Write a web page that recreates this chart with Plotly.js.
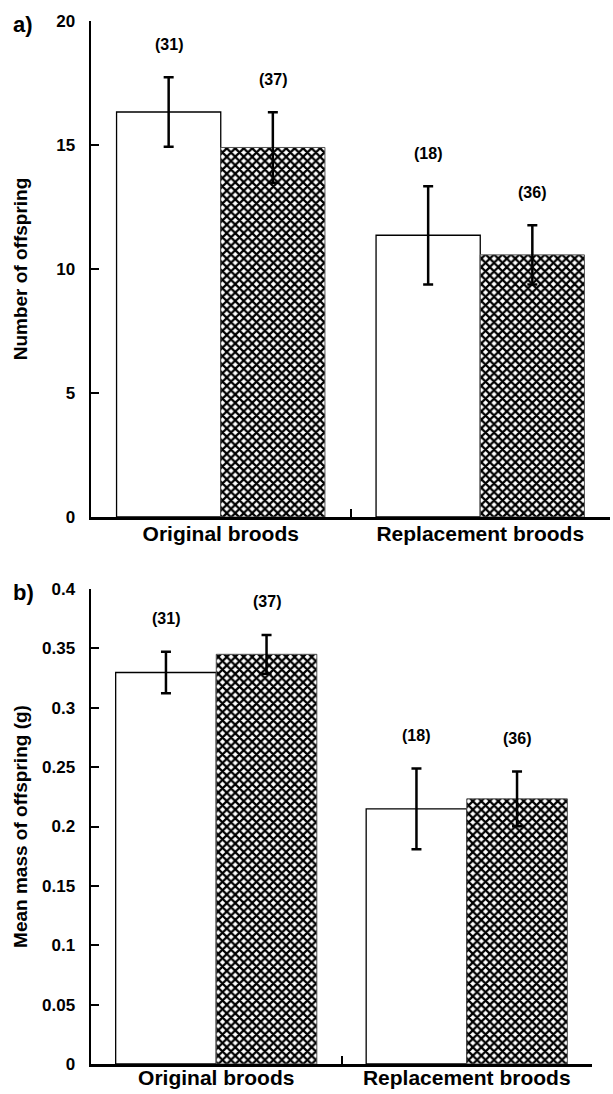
<!DOCTYPE html>
<html>
<head>
<meta charset="utf-8">
<script src="https://cdn.plot.ly/plotly-3.0.1.min.js"></script>
<style>html,body{margin:0;padding:0;background:#fff;}#chart{width:613px;height:1094px;}</style>
</head>
<body>
<div id="chart"></div>
<script>
// ---- data ----
const categories = ['Original broods', 'Replacement broods'];

// panel a) Number of offspring
const numberWhite = [16.33, 11.36];
const numberWhiteErr = [1.40, 1.98];
const numberChecked = [14.90, 10.57];
const numberCheckedErr = [1.42, 1.19];

// panel b) Mean mass of offspring (g)
const massWhite = [0.3297, 0.2149];
const massWhiteErr = [0.0175, 0.034];
const massChecked = [0.345, 0.2233];
const massCheckedErr = [0.0163, 0.023];

// sample sizes
const nWhite = ['(31)', '(18)'];
const nChecked = ['(37)', '(36)'];

// tick labels
const ticksA = [0, 5, 10, 15, 20];
const tickTextA = ['0', '5', '10', '15', '20'];
const ticksB = [0, 0.05, 0.1, 0.15, 0.2, 0.25, 0.3, 0.35, 0.4];
const tickTextB = ['0', '0.05', '0.1', '0.15', '0.2', '0.25', '0.3', '0.35', '0.4'];

// ---- style ----
const FONT = 'Liberation Sans, Arial, sans-serif';
const BARGAP = 0.197;
const whiteMarker = {color: 'white', line: {color: 'black', width: 1.3}};
const checkMarker = {
  color: 'white',
  pattern: {shape: 'x', fgcolor: 'black', bgcolor: 'white', size: 6, solidity: 0.6},
  line: {color: '#555', width: 1}
};
const errStyle = (arr) => ({type: 'data', array: arr, visible: true, color: 'black', thickness: 2.5, width: 5});

function barTrace(y, err, marker, xa, ya, name) {
  return {type: 'bar', x: categories, y: y, error_y: errStyle(err), marker: marker,
          xaxis: xa, yaxis: ya, name: name, showlegend: false, hoverinfo: 'skip'};
}

const data = [
  barTrace(numberWhite, numberWhiteErr, whiteMarker, 'x', 'y', 'white'),
  barTrace(numberChecked, numberCheckedErr, checkMarker, 'x', 'y', 'checked'),
  barTrace(massWhite, massWhiteErr, whiteMarker, 'x2', 'y2', 'white'),
  barTrace(massChecked, massCheckedErr, checkMarker, 'x2', 'y2', 'checked')
];

const W = 613, H = 1094;
const xAxisBase = {
  type: 'category', range: [-0.5, 1.5], showline: true, linecolor: 'black', linewidth: 2.5,
  ticks: 'inside', tickson: 'boundaries', ticklen: 8, tickwidth: 2, tickcolor: 'black',
  showgrid: false, zeroline: false, fixedrange: true,
  tickfont: {family: FONT, size: 21, color: 'black', weight: 'bold'}
};
const yAxisBase = {
  showline: true, linecolor: 'black', linewidth: 2.5, ticks: 'inside', ticklen: 8, tickwidth: 2,
  tickcolor: 'black', showgrid: false, zeroline: false, fixedrange: true, tickmode: 'array',
  tickfont: {family: FONT, size: 17, color: 'black', weight: 'bold'}, ticklabelstandoff: 10
};

const offset = (1 - BARGAP) / 4;
const annotations = [];
function addN(labels, means, errs, sign, xref, yref) {
  labels.forEach((t, i) => {
    annotations.push({x: i + sign * offset, y: means[i] + errs[i], xref: xref, yref: yref,
      text: t, showarrow: false, yshift: 33, yanchor: 'middle',
      font: {family: FONT, size: 16, color: 'black', weight: 'bold'}});
  });
}
addN(nWhite, numberWhite, numberWhiteErr, -1, 'x', 'y');
addN(nChecked, numberChecked, numberCheckedErr, 1, 'x', 'y');
addN(nWhite, massWhite, massWhiteErr, -1, 'x2', 'y2');
addN(nChecked, massChecked, massCheckedErr, 1, 'x2', 'y2');
annotations.push({xref: 'paper', yref: 'paper', x: 23 / W, y: 1 - 25 / H, text: 'a)', showarrow: false,
  xanchor: 'center', yanchor: 'middle', font: {family: FONT, size: 22, color: 'black', weight: 'bold'}});
annotations.push({xref: 'paper', yref: 'paper', x: 23 / W, y: 1 - 592 / H, text: 'b)', showarrow: false,
  xanchor: 'center', yanchor: 'middle', font: {family: FONT, size: 22, color: 'black', weight: 'bold'}});

const layout = {
  width: W, height: H, margin: {l: 0, r: 0, t: 0, b: 0},
  paper_bgcolor: 'white', plot_bgcolor: 'white', barmode: 'group', bargap: BARGAP, bargroupgap: 0,
  xaxis: Object.assign({}, xAxisBase, {domain: [91 / W, 610 / W], anchor: 'y', ticklabelstandoff: -4}),
  yaxis: Object.assign({}, yAxisBase, {domain: [1 - 517 / H, 1 - 21 / H], range: [0, 20], anchor: 'x',
    tickvals: ticksA, ticktext: tickTextA,
    title: {text: 'Number of offspring', standoff: 24, font: {family: FONT, size: 19, color: 'black', weight: 'bold'}}}),
  xaxis2: Object.assign({}, xAxisBase, {domain: [91 / W, 592 / W], anchor: 'y2', ticklabelstandoff: -7}),
  yaxis2: Object.assign({}, yAxisBase, {domain: [1 - 1064 / H, 1 - 589 / H], range: [0, 0.4], anchor: 'x2',
    tickvals: ticksB, ticktext: tickTextB,
    title: {text: 'Mean mass of offspring (g)', standoff: 10, font: {family: FONT, size: 19, color: 'black', weight: 'bold'}}}),
  annotations: annotations
};

Plotly.newPlot('chart', data, layout, {staticPlot: true, displayModeBar: false});
</script>
</body>
</html>
